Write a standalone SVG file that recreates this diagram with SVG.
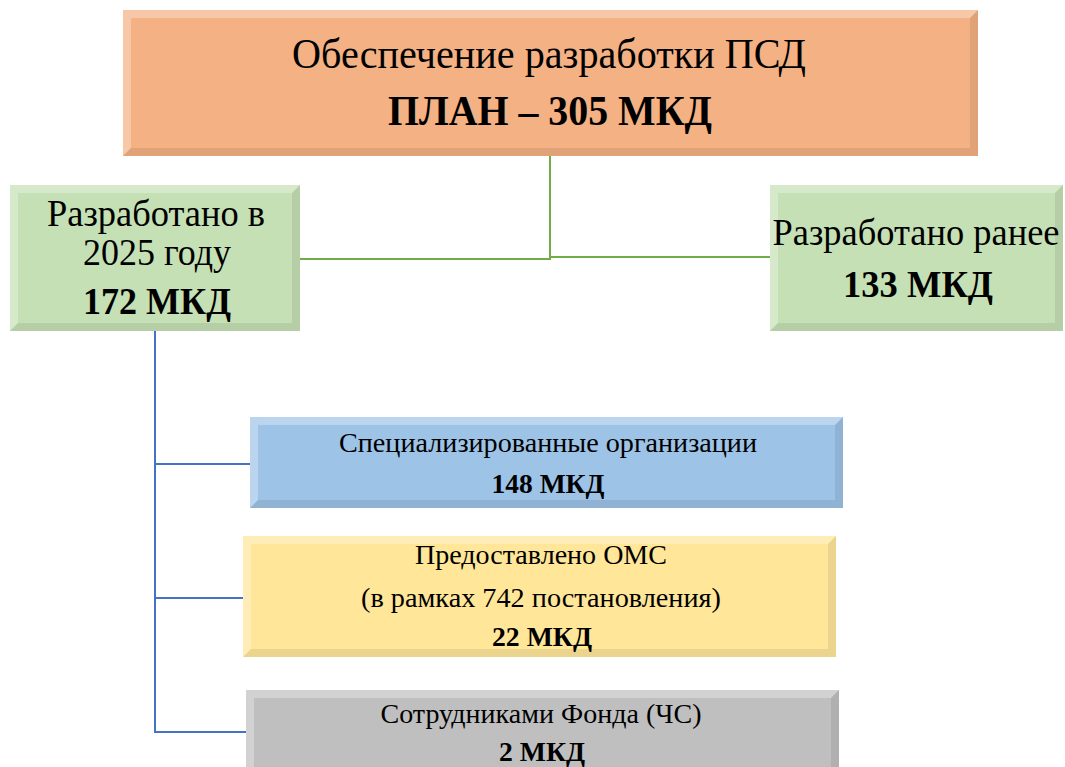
<svg xmlns="http://www.w3.org/2000/svg" width="1065" height="767" viewBox="0 0 1065 767">
<style>
.t{font-family:"Liberation Serif","Times New Roman",serif;fill:#000;text-anchor:middle}
.b{font-weight:bold}
.hl{fill:#fff;opacity:0.3}
.dk{fill:#000;opacity:0.08}
.cg{stroke:#70AD47;stroke-width:2;fill:none}
.cb{stroke:#4472C4;stroke-width:2;fill:none}
</style>
<rect width="1065" height="767" fill="#fff"/>
<g id="connectors">
<polyline class="cg" points="550,156 550,258"/>
<polyline class="cg" points="300,259 550,259 550,257 770,257"/>
<polyline class="cb" points="155,331 155,732 246,732"/>
<line class="cb" x1="155" y1="464" x2="250" y2="464"/>
<line class="cb" x1="155" y1="598" x2="243" y2="598"/>
</g>
<g id="top">
<rect x="123" y="10" width="855" height="146" fill="#F4B183"/>
<polygon class="hl" points="123,10 978,10 970,18 131,18"/>
<polygon class="hl" points="123,10 131,18 131,148 123,156"/>
<polygon class="dk" points="978,10 978,156 970,148 970,18"/>
<polygon class="dk" points="123,156 978,156 970,148 131,148"/>
<text class="t" x="549" y="68" font-size="42" textLength="514" lengthAdjust="spacingAndGlyphs">Обеспечение разработки ПСД</text>
<text class="t b" x="550" y="125" font-size="42" textLength="324" lengthAdjust="spacingAndGlyphs">ПЛАН – 305 МКД</text>
</g>
<g id="left">
<rect x="10" y="185" width="290" height="146" fill="#C5E0B4"/>
<polygon class="hl" points="10,185 300,185 292,193 18,193"/>
<polygon class="hl" points="10,185 18,193 18,323 10,331"/>
<polygon class="dk" points="300,185 300,331 292,323 292,193"/>
<polygon class="dk" points="10,331 300,331 292,323 18,323"/>
<text class="t" x="156" y="226" font-size="37" textLength="218" lengthAdjust="spacingAndGlyphs">Разработано в</text>
<text class="t" x="157" y="265" font-size="37" textLength="148" lengthAdjust="spacingAndGlyphs">2025 году</text>
<text class="t b" x="157" y="314" font-size="37" textLength="148" lengthAdjust="spacingAndGlyphs">172 МКД</text>
</g>
<g id="right">
<rect x="770" y="185" width="293" height="146" fill="#C5E0B4"/>
<polygon class="hl" points="770,185 1063,185 1055,193 778,193"/>
<polygon class="hl" points="770,185 778,193 778,323 770,331"/>
<polygon class="dk" points="1063,185 1063,331 1055,323 1055,193"/>
<polygon class="dk" points="770,331 1063,331 1055,323 778,323"/>
<text class="t" x="916" y="245" font-size="37" textLength="287" lengthAdjust="spacingAndGlyphs">Разработано ранее</text>
<text class="t b" x="918" y="297" font-size="37" textLength="150" lengthAdjust="spacingAndGlyphs">133 МКД</text>
</g>
<g id="blue">
<rect x="250" y="417" width="593" height="91" fill="#9DC3E6"/>
<polygon class="hl" points="250,417 843,417 835,425 258,425"/>
<polygon class="hl" points="250,417 258,425 258,500 250,508"/>
<polygon class="dk" points="843,417 843,508 835,500 835,425"/>
<polygon class="dk" points="250,508 843,508 835,500 258,500"/>
<text class="t" x="548" y="452" font-size="28" textLength="418" lengthAdjust="spacingAndGlyphs">Специализированные организации</text>
<text class="t b" x="548" y="493" font-size="28" textLength="113" lengthAdjust="spacingAndGlyphs">148 МКД</text>
</g>
<g id="yellow">
<rect x="243" y="536" width="593" height="121" fill="#FFE699"/>
<polygon class="hl" points="243,536 836,536 828,544 251,544"/>
<polygon class="hl" points="243,536 251,544 251,649 243,657"/>
<polygon class="dk" points="836,536 836,657 828,649 828,544"/>
<polygon class="dk" points="243,657 836,657 828,649 251,649"/>
<text class="t" x="541" y="564" font-size="28" textLength="252" lengthAdjust="spacingAndGlyphs">Предоставлено ОМС</text>
<text class="t" x="541" y="607" font-size="28" textLength="360" lengthAdjust="spacingAndGlyphs">(в рамках 742 постановления)</text>
<text class="t b" x="542" y="646" font-size="28" textLength="100" lengthAdjust="spacingAndGlyphs">22 МКД</text>
</g>
<g id="grey">
<rect x="246" y="690" width="593" height="90" fill="#BFBFBF"/>
<polygon class="hl" points="246,690 839,690 831,698 254,698"/>
<polygon class="hl" points="246,690 254,698 254,780 246,780"/>
<polygon class="dk" points="839,690 839,780 831,780 831,698"/>
<text class="t" x="541" y="723" font-size="28" textLength="321" lengthAdjust="spacingAndGlyphs">Сотрудниками Фонда (ЧС)</text>
<text class="t b" x="542" y="761" font-size="28" textLength="86" lengthAdjust="spacingAndGlyphs">2 МКД</text>
</g>
</svg>
